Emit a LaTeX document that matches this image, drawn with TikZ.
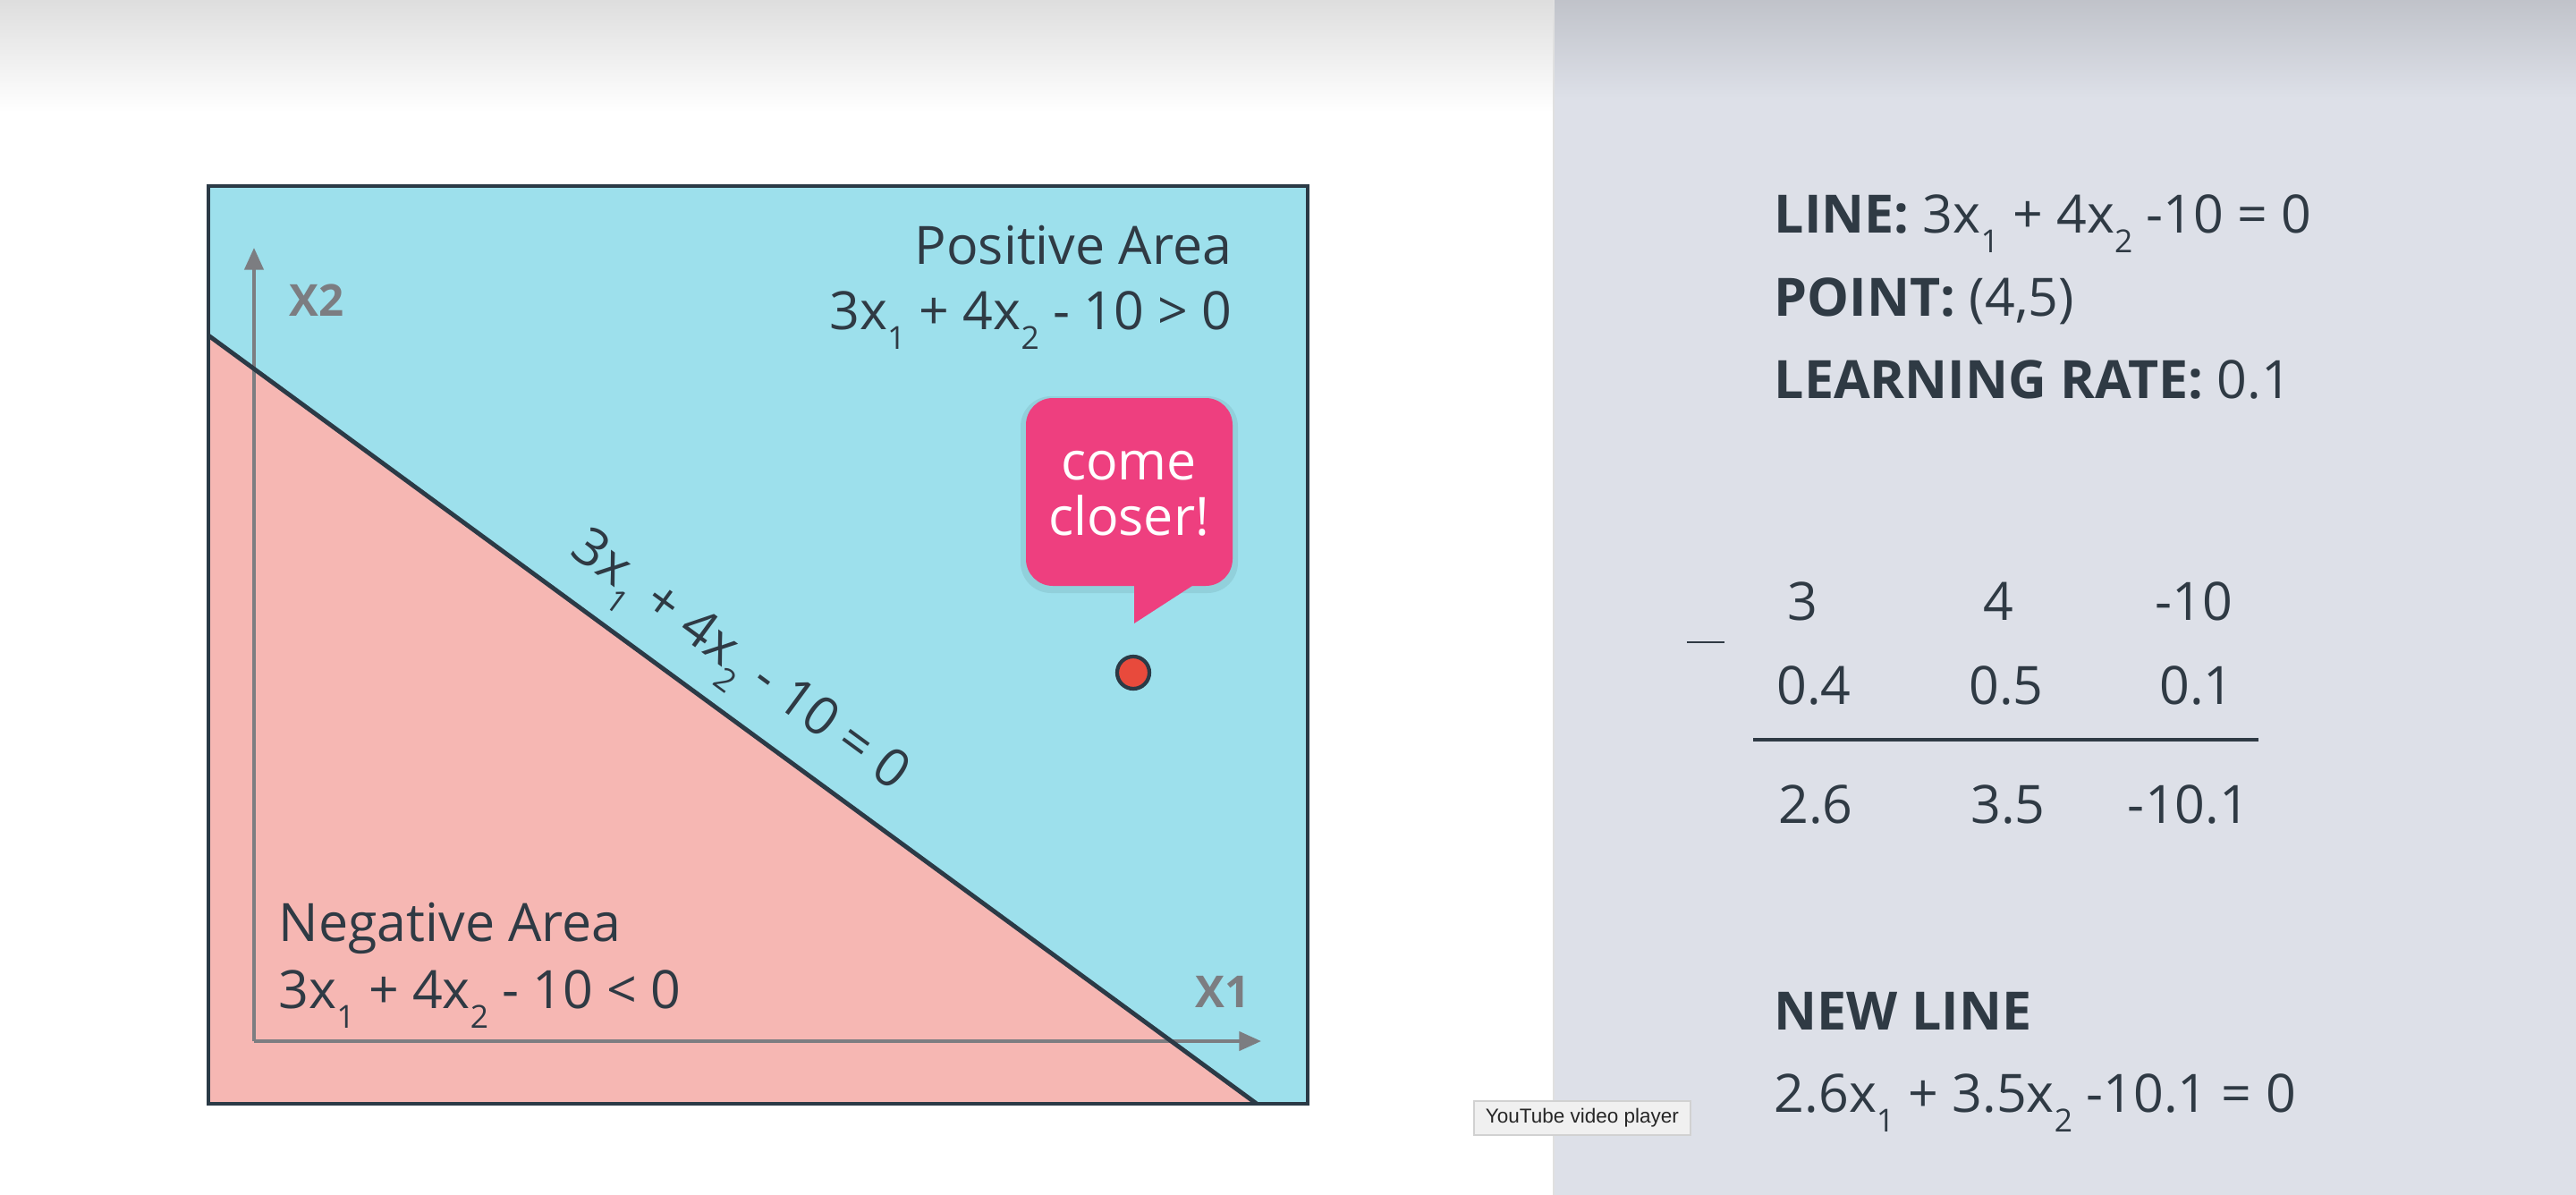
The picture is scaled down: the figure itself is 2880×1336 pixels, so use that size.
\documentclass[tikz,border=0pt]{standalone}
\usepackage{fontspec}
\setmainfont{Open Sans}
\newfontfamily\tipfont{Liberation Sans}
\usepackage{tikz}
\usetikzlibrary{arrows.meta}
\definecolor{posblue}{HTML}{9DE0EC}
\definecolor{negpink}{HTML}{F6B7B3}
\definecolor{frame}{HTML}{2B3A46}
\definecolor{ink}{HTML}{2F3A44}
\definecolor{axisgray}{HTML}{7C7D81}
\definecolor{bubble}{HTML}{EE3F7F}
\definecolor{dot}{HTML}{E84A3C}
\definecolor{panel}{HTML}{DDE0E8}
\newcommand{\xsub}[1]{x\raisebox{-0.38em}{\scalebox{0.6}{#1}}}

\begin{document}
\begin{tikzpicture}[x=0.01cm,y=-0.01cm,
  txt/.style={font=\fontsize{16.8}{20}\selectfont,text=ink,inner sep=0pt},
  lbl/.style={font=\fontsize{14}{16}\selectfont\bfseries,text=axisgray,inner sep=0pt},
  axis/.style={axisgray,line width=1.1pt,-{Triangle[length=7pt,width=6pt]}}]
\useasboundingbox (0,0) rectangle (2880,1336);
\fill[white] (0,0) rectangle (1737,1336);
\shade[top color=black!13,bottom color=white] (0,0) rectangle (1737,125);
\fill[panel] (1737,0) rectangle (2880,1336);
\shade[top color=panel!87!black,bottom color=panel] (1737,0) rectangle (2880,110);
\draw[black!12,line width=0.6pt] (1737,0) -- (1737,1336);
% plot
\coordinate (tl) at (233,208);
\coordinate (br) at (1462,1234);
\coordinate (lstart) at (233,375);
\coordinate (lend) at (1405,1234);
\coordinate (o) at (284,1164);
\coordinate (ytip) at (284,277);
\coordinate (xtip) at (1410,1164);
\fill[posblue] (tl) rectangle (br);
\fill[negpink] (lstart) -- (lend) -- (233,1234) -- cycle;
\draw[axis] (o) -- (ytip);
\draw[axis] (o) -- (xtip);
\draw[frame,line width=1.4pt] (tl) rectangle (br);
\draw[frame,line width=1.4pt] (lstart) -- node[txt,sloped,above=4.5pt,pos=0.478] (linelbl)
   {3\xsub1 + 4\xsub2 - 10 = 0} (lend);
\node[lbl] (x2) at (354,336) {X2};
\node[lbl] (x1) at (1367,1109) {X1};
\node[txt,anchor=base east] (posname) at (1378,295) {Positive Area};
\node[txt,anchor=base east] (poseq) at (1378,368) {3\xsub1 + 4\xsub2 - 10 > 0};
\node[txt,anchor=base west] (negname) at (311,1052) {Negative Area};
\node[txt,anchor=base west] (negeq) at (311,1127) {3\xsub1 + 4\xsub2 - 10 < 0};
% speech bubble and point
\fill[black,opacity=0.07,rounded corners=0.34cm] (1141,443) rectangle (1384,663);
\fill[bubble,rounded corners=0.3cm] (1147,445) rectangle (1378,655);
\fill[bubble] (1268,645) -- (1268,697) -- (1356,640) -- cycle;
\node[txt,text=white,align=center,font=\fontsize{16.8}{17.6}\selectfont] (bub) at (1262,552) {come\\closer!};
\node[circle,fill=dot,draw=frame,line width=1.2pt,minimum size=0.36cm,inner sep=0pt] (pt) at (1267,752) {};
% right panel
\node[txt,anchor=base west] (line) at (1983,260) {\textbf{LINE:} 3\xsub1 + 4\xsub2 -10 = 0};
\node[txt,anchor=base west] (point) at (1983,353) {\textbf{POINT:} (4,5)};
\node[txt,anchor=base west] (rate) at (1983,445) {\textbf{LEARNING RATE:} 0.1};
\foreach \i/\xa/\a/\xb/\b/\xc/\c in %
{1/2015/3/2028/0.4/2030/2.6,2/2234/4/2243/0.5/2245/3.5,3/2453/-10/2456/0.1/2447/-10.1} {
   \node[txt,anchor=base] (w\i) at (\xa,693) {\a};
   \node[txt,anchor=base] (d\i) at (\xb,787) {\b};
   \node[txt,anchor=base] (n\i) at (\xc,920) {\c};
}
\node[inner sep=0pt,text=ink] (minus) at (1907,718) {\rule{12pt}{0.7pt}};
\coordinate (rulea) at (1960,827);
\coordinate (ruleb) at (2525,827);
\draw[ink,line width=0.9pt] (rulea) -- (ruleb);
\node[txt,anchor=base west] (newhead) at (1983,1151) {\textbf{NEW LINE}};
\node[txt,anchor=base west] (neweq) at (1983,1243) {2.6\xsub1 + 3.5\xsub2 -10.1 = 0};
\node[draw=black!18,fill=black!6,text=black!85,font=\tipfont\fontsize{6.4}{8}\selectfont,
   minimum width=2.42cm,minimum height=0.38cm,inner sep=0pt] (tip) at (1769,1250) {YouTube video player};
\end{tikzpicture}
\end{document}
